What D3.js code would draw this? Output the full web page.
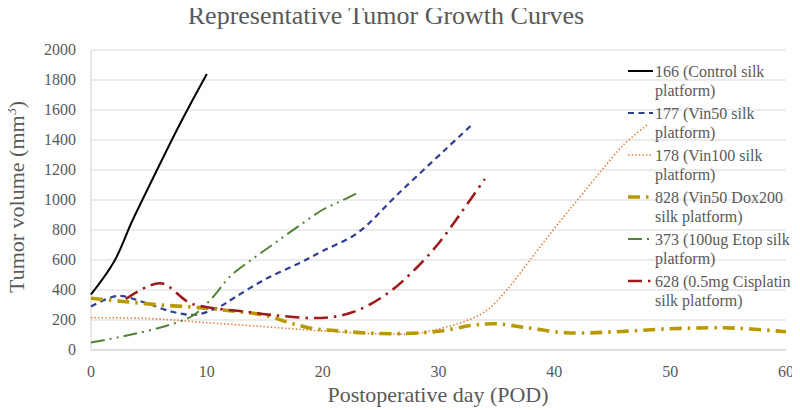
<!DOCTYPE html>
<html><head><meta charset="utf-8">
<script src="https://cdn.jsdelivr.net/npm/d3@7"></script>
</head><body><svg id="c" width="800" height="410" style="display:block;margin:-8px 0 0 -8px"></svg>
<script>
const title = "Representative Tumor Growth Curves";
const xLabel = "Postoperative day (POD)";
const yTicks = [0,200,400,600,800,1000,1200,1400,1600,1800,2000];
const xTicks = [0,10,20,30,40,50,60];

const days166 = [0,2,3.5,5,7.7,10];
const vol166  = [370,590,850,1090,1510,1840];
const days177 = [0,2.3,4.5,7,9,11,12.5,15,18,20,23,26.5,30.5,33];
const vol177  = [290,360,320,255,235,285,355,470,580,660,780,1040,1330,1510];
const days178 = [0,5,10,15,20,25,28,30,32,34,36,38,40,42,44,46,48];
const vol178  = [215,210,182,155,127,108,110,140,185,255,410,610,810,1000,1190,1370,1500];
const days828 = [0,3,6,9,12,15,17,19,21,24,27,30,33,35,37.5,41,45,49.5,54.5,57,60];
const vol828  = [345,322,300,285,262,232,185,145,130,112,110,125,165,175,150,115,120,140,148,140,122];
const days373 = [0,3,6,8,9,10.5,12,14,16,18,20,21.5,23];
const vol373  = [50,95,150,200,240,350,490,610,720,830,935,990,1047];
const days628 = [3,6,8.5,10.5,13,15.7,19,21,22.5,24,26,28,30,32,34];
const vol628  = [340,445,315,280,258,233,213,222,250,300,400,540,710,920,1140];

const legendLines = [["166 (Control silk","platform)"],["177 (Vin50 silk","platform)"],["178 (Vin100 silk","platform)"],["828 (Vin50 Dox200","silk platform)"],["373 (100ug Etop silk","platform)"],["628 (0.5mg Cisplatin","silk platform)"]];
const colors = ["#000000","#2F3F8F","#E07B39","#B89A00","#548235","#9E1B1B"];
const styles = [
  {w:2, dash:null},
  {w:2.2, dash:"6,4.5"},
  {w:1.6, dash:"1.4,2.2"},
  {w:3.6, dash:"12,6,2.5,6"},
  {w:2, dash:"14,5,2,5,2,5"},
  {w:2.6, dash:"14,6,2.5,6"}
];
const series = [
  [days166,vol166],[days177,vol177],[days178,vol178],[days828,vol828],[days373,vol373],[days628,vol628]
];

const FF = '"Liberation Serif"';
const svg = d3.select("#c");
const x = d3.scaleLinear().domain([0,60]).range([91,786]);
const y = d3.scaleLinear().domain([0,2000]).range([350,50]);

svg.append("g").selectAll("line").data(yTicks).join("line")
  .attr("x1",x(0)).attr("x2",x(60)).attr("y1",d=>y(d)).attr("y2",d=>y(d))
  .attr("stroke",d=>d===0?"#bfbfbf":"#d9d9d9").attr("stroke-width",1.2);
svg.append("line").attr("x1",x(0)).attr("x2",x(0)).attr("y1",y(0)).attr("y2",y(2000)).attr("stroke","#d9d9d9").attr("stroke-width",1.2);

yTicks.forEach(v=>{
  svg.append("text").attr("x",x(0)-15).attr("y",y(v)).attr("dy","0.32em").attr("text-anchor","end")
    .attr("font-size",16).attr("fill","#595959").style("font-family",FF).text(d3.format("d")(v));
});
xTicks.forEach(v=>{
  svg.append("text").attr("x",x(v)).attr("y",y(0)+27).attr("text-anchor","middle")
    .attr("font-size",16).attr("fill","#595959").style("font-family",FF).text(d3.format("d")(v));
});

svg.append("text").attr("x",386).attr("y",24).attr("text-anchor","middle").attr("font-size",26).attr("fill","#595959").style("font-family",FF).text(title);
svg.append("text").attr("x",438).attr("y",402).attr("text-anchor","middle").attr("font-size",22).attr("fill","#595959").style("font-family",FF).text(xLabel);
const yl = svg.append("text").attr("transform","translate(24,197) rotate(-90)").attr("text-anchor","middle").attr("font-size",22).attr("fill","#595959").style("font-family",FF);
yl.append("tspan").text("Tumor volume (mm");
yl.append("tspan").attr("font-size",14).attr("dy",-8).text("3");
yl.append("tspan").attr("dy",8).text(")");

const line = d3.line().x(d=>x(d[0])).y(d=>y(d[1])).curve(d3.curveCatmullRom.alpha(0.5));
series.forEach((s,i)=>{
  const pts = s[0].map((d,j)=>[d,s[1][j]]);
  const p = svg.append("path").datum(pts).attr("d",line).attr("fill","none")
    .attr("stroke",colors[i]).attr("stroke-width",styles[i].w);
  if(styles[i].dash) p.attr("stroke-dasharray",styles[i].dash);
});

legendLines.forEach((ls,i)=>{
  const cy = 71 + i*42;
  const l = svg.append("line").attr("x1",628).attr("x2",653).attr("y1",cy).attr("y2",cy)
    .attr("stroke",colors[i]).attr("stroke-width",styles[i].w);
  if(styles[i].dash) l.attr("stroke-dasharray",styles[i].dash);
  ls.forEach((t,k)=>{
    svg.append("text").attr("x",655).attr("y",cy+6+k*19).attr("font-size",16).attr("fill","#595959").style("font-family",FF).text(t);
  });
});
</script></body></html>
